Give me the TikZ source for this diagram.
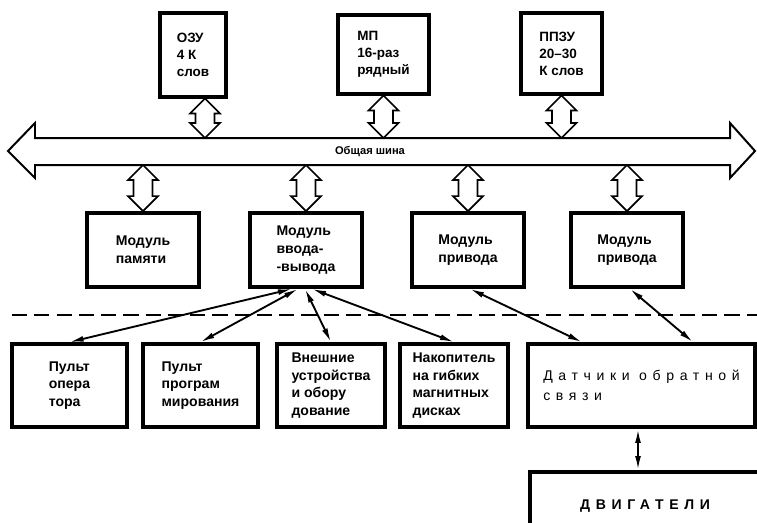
\documentclass[tikz,border=0pt]{standalone}
\usepackage{fontspec}
\setmainfont{Liberation Sans}
\newfontfamily\spacedfont[LetterSpace=40]{Liberation Sans}
\usetikzlibrary{calc,arrows.meta}

\begin{document}
\begin{tikzpicture}[x=0.03cm,y=-0.03cm,
    topbox/.style={draw,line width=2.6pt,align=left,font=\fontsize{11.5}{14.5}\selectfont\bfseries},
    box/.style={draw,line width=3.2pt,align=left,minimum height=2.49cm,font=\fontsize{12}{15}\selectfont\bfseries},
    modbox/.style={box,minimum width=3.36cm,minimum height=2.22cm},
    hollow/.style={line width=1.4pt,fill=white,
      to path={-- ($(\tikztostart)+(15,15)$) -- ($(\tikztostart)+(9.5,15)$)
        -- ($(\tikztotarget)+(9.5,-15)$) -- ($(\tikztotarget)+(15,-15)$)
        -- (\tikztotarget) -- ($(\tikztotarget)+(-15,-15)$) -- ($(\tikztotarget)+(-9.5,-15)$)
        -- ($(\tikztostart)+(-9.5,15)$) -- ($(\tikztostart)+(-15,15)$) -- cycle}},
    link/.style={line width=1.6pt,{Latex[length=12pt,width=5pt]}-{Latex[length=12pt,width=5pt]}}]
\path[use as bounding box,clip] (0,0) rectangle (757,522);

% common bus
\draw[line width=1.7pt,line join=miter] (8,151) -- (35,123) -- (35,138) -- (730,138) -- (730,123)
  -- (755,151) -- (730,178) -- (730,165) -- (35,165) -- (35,178) -- cycle;
\node[font=\fontsize{9.5}{11}\selectfont\bfseries] (bus) at (370,152) {Общая шина};
\coordinate (bustop) at (0,138);
\coordinate (busbot) at (0,165);

% upper units
\node[topbox,minimum width=1.98cm,minimum height=2.52cm] (ozu) at (193,55) {ОЗУ\\4 К\\слов};
\node[topbox,minimum width=2.73cm,minimum height=2.37cm] (mp) at (383.5,54.5) {МП\\16-раз\\рядный};
\node[topbox,minimum width=2.43cm,minimum height=2.43cm] (ppzu) at (561.5,53.5) {ППЗУ\\20–30\\К слов};

\coordinate (ozuport) at ($(ozu.south)+(12,0)$);
\draw[hollow] (ozuport) to (ozuport |- bustop);
\draw[hollow] (mp.south) to (mp.south |- bustop);
\draw[hollow] (ppzu.south) to (ppzu.south |- bustop);

% modules
\node[modbox] (mem) at (143,250) {Модуль\\памяти};
\node[modbox] (io) at (306,250) {Модуль\\ввода-\\-вывода};
\node[modbox] (drv1) at (468,250) {Модуль\\привода};
\node[modbox] (drv2) at (627,250) {Модуль\\привода};

\draw[hollow] (mem.north |- busbot) to (mem.north);
\draw[hollow] (io.north |- busbot) to (io.north);
\draw[hollow] (drv1.north |- busbot) to (drv1.north);
\draw[hollow] (drv2.north |- busbot) to (drv2.north);

\draw[line width=1.7pt,dash pattern=on 13pt off 6pt] (12,315) -- (757,315);

% lower units
\node[box,minimum width=3.45cm] (pultop) at (69.5,385.5) {Пульт\\опера\\тора};
\node[box,minimum width=3.45cm] (pultprog) at (200.5,385.5) {Пульт\\програм\\мирования};
\node[box,minimum width=3.24cm] (ext) at (331,385.5) {Внешние\\устройства\\и обору\\дование};
\node[box,minimum width=3.24cm] (fdd) at (454,385.5) {Накопитель\\на гибких\\магнитных\\дисках};
\node[box,minimum width=6.81cm,font=\fontsize{12}{17}\spacedfont] (sens) at (641.5,385.5) {Датчики обратной\\связи};
\node[box,minimum width=6.9cm,minimum height=2.04cm,font=\fontsize{12}{15}\spacedfont\bfseries] (motor) at (645,506) {ДВИГАТЕЛИ};

\draw[link] ($(io.south)+(-14,0)$) -- (pultop.north);
\draw[link] ($(io.south)+(-8,0)$) -- (pultprog.north);
\draw[link] ($(io.south)+(-1,0)$) -- (ext.north);
\draw[link] ($(io.south)+(6,0)$) -- (fdd.north);
\draw[link] ($(drv1.south)+(2,0)$) -- ($(sens.north)+(-59.5,0)$);
\draw[link] ($(drv2.south)+(3,0)$) -- ($(sens.north)+(51.5,0)$);
\coordinate (sensport) at ($(sens.south)+(-3.5,0)$);
\draw[link] (sensport) -- (sensport |- motor.north);
\end{tikzpicture}
\end{document}
